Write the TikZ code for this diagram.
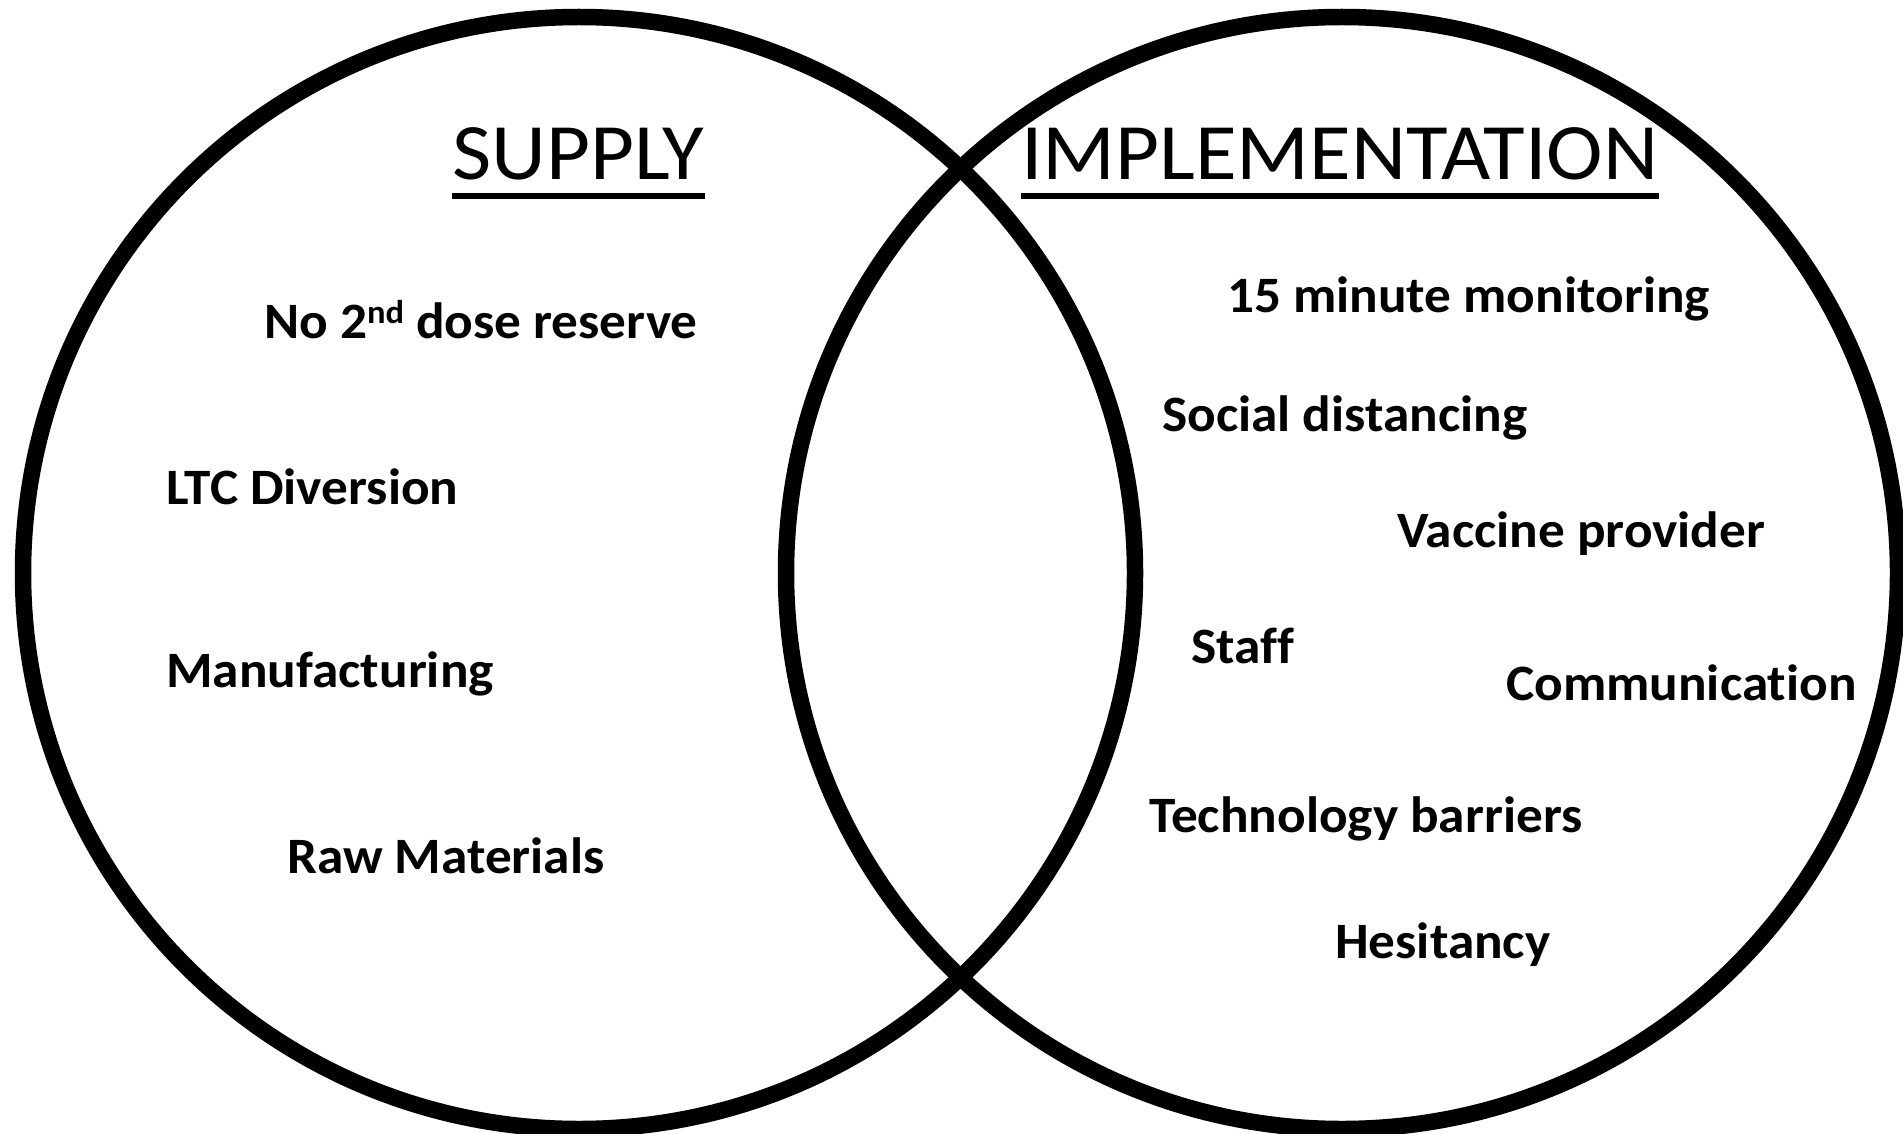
\documentclass[tikz,border=0pt]{standalone}
\usepackage{fontspec}
\setmainfont{Carlito}[Ligatures=NoCommon,BoldFeatures={FakeStretch=1.045}]
\newfontfamily\hdrfont{Carlito}[FakeStretch=1.065]
\begin{document}
\begin{tikzpicture}[x=1pt,y=-1pt,
  venn/.style={circle,draw=black,line width=16.5pt,minimum size=1112pt,inner sep=0pt},
  lbl/.style={anchor=base west,inner sep=0pt,font=\bfseries\fontsize{51}{60}\selectfont},
  hdr/.style={anchor=base west,inner sep=0pt,font=\hdrfont\fontsize{80}{92}\selectfont},
  uline/.style={draw=black,line width=6pt}]
\useasboundingbox (0,0) rectangle (1903,1134);
\node[venn] (left) at (579,573) {};
\node[venn] (right) at (1342,573) {};
\node[hdr] (hs) at (452,180) {SUPPLY};
\node[hdr] (hi) at (1021,180) {IMPLEMENTATION};
\draw[uline] ([yshift=-16pt]hs.base west) -- ([yshift=-16pt]hs.base east);
\draw[uline] ([yshift=-16pt]hi.base west) -- ([yshift=-16pt]hi.base east);
\node[lbl] (a1) at (264,338) {No 2\raisebox{15pt}{\fontsize{33}{33}\selectfont nd} dose reserve};
\node[lbl] (a2) at (166,504) {LTC Diversion};
\node[lbl] (a3) at (166,687) {Manufacturing};
\node[lbl] (a4) at (287,873) {Raw Materials};
\node[lbl] (b1) at (1227,312) {15 minute monitoring};
\node[lbl] (b2) at (1162,431) {Social distancing};
\node[lbl] (b3) at (1397,547) {Vaccine provider};
\node[lbl] (b4) at (1191,663) {Staff};
\node[lbl] (b5) at (1506,700) {Communication};
\node[lbl] (b6) at (1149,832) {Technology barriers};
\node[lbl] (b7) at (1335,958) {Hesitancy};
\end{tikzpicture}
\end{document}
